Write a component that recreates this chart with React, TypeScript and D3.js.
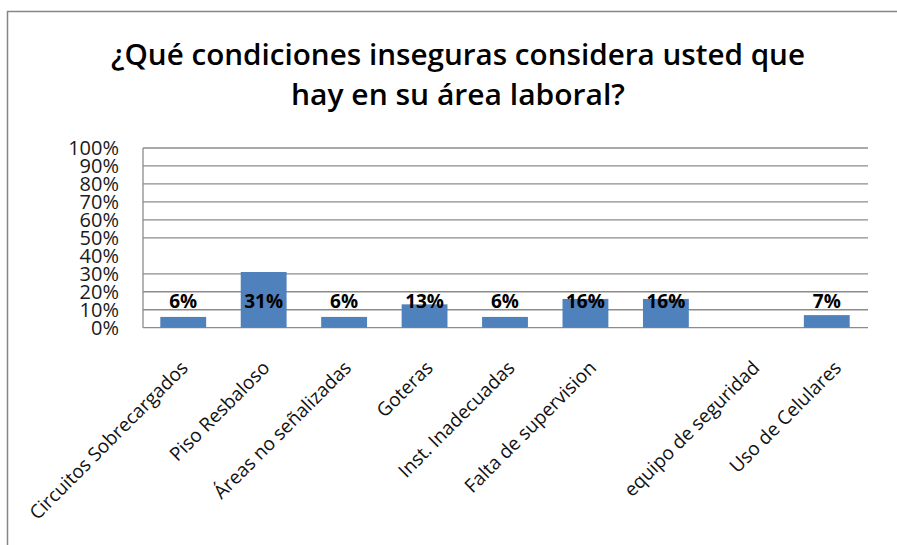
import React from "react";
import * as d3 from "d3";

const axisLabels = [
  "Circuitos Sobrecargados",
  "Piso Resbaloso",
  "Áreas  no señalizadas",
  "Goteras",
  "Inst. Inadecuadas",
  "Falta de supervision",
  "",
  "equipo de seguridad",
  "Uso de Celulares",
];
const values = [6, 31, 6, 13, 6, 16, 16, 0, 7];
const yTicks = [0, 10, 20, 30, 40, 50, 60, 70, 80, 90, 100];
const gridTicks = [0, 10, 20, 30, 50, 60, 70, 80, 90, 100];
const titleLines = ["¿Qué condiciones inseguras considera usted que", "hay en su área laboral?"];

export default function App() {
  const W = 897;
  const H = 545;
  const left = 143;
  const right = 867;
  const top = 148;
  const bottom = 327.7;
  const x = d3
    .scaleBand<number>()
    .domain(d3.range(values.length))
    .range([left, right])
    .paddingInner(0.43)
    .paddingOuter(0.215);
  const y = d3.scaleLinear().domain([0, 100]).range([bottom, top]);
  const font = "'Open Sans', sans-serif";
  const titleWidths = [694, 334];
  return (
    <svg
      width={W}
      height={H}
      style={{ position: "absolute", left: 0, top: 0, background: "#fff" }}
    >
      <rect x={0} y={0} width={W} height={H} fill="#fff" />
      <path d={`M7.5,${H} V11.5 H${W}`} fill="none" stroke="#868686" strokeWidth={1.5} />
      {titleLines.map((t, i) => (
        <text
          key={i}
          x={458}
          y={65 + i * 40}
          textAnchor="middle"
          fontFamily={font}
          fontWeight={600}
          fontSize={28}
          textLength={titleWidths[i]}
          lengthAdjust="spacingAndGlyphs"
          fill="#000"
        >
          {t}
        </text>
      ))}
      {gridTicks.map((t) => (
        <line key={t} x1={left} x2={right + 1} y1={y(t)} y2={y(t)} stroke="#8c8c8c" strokeWidth={1.3} />
      ))}
      <line x1={left} x2={left} y1={top} y2={bottom} stroke="#8c8c8c" strokeWidth={1.3} />
      {yTicks.map((t) => (
        <text
          key={t}
          x={119}
          y={y(t)}
          dy="0.36em"
          textAnchor="end"
          fontFamily={font}
          fontSize={20}
          fill="#1a1a1a"
        >
          {`${t}%`}
        </text>
      ))}
      {values.map((v, i) => (
        <rect
          key={i}
          x={x(i)}
          y={y(v)}
          width={x.bandwidth()}
          height={y(0) - y(v)}
          fill="#4f81bd"
        />
      ))}
      {values.map((v, i) =>
        v > 0 ? (
          <text
            key={i}
            x={(x(i) as number) + x.bandwidth() / 2}
            y={y(11)}
            textAnchor="middle"
            fontFamily={font}
            fontWeight={700}
            fontSize={19}
            fill="#000"
          >
            {`${v}%`}
          </text>
        ) : null
      )}
      {axisLabels.map((c, i) =>
        c ? (
          <text
            key={i}
            transform={`translate(${(x(i) as number) + x.bandwidth() / 2 + 6 + i * 1.2},369) rotate(-45)`}
            textAnchor="end"
            fontFamily={font}
            fontSize={19}
            fill="#111"
          >
            {c}
          </text>
        ) : null
      )}
    </svg>
  );
}
